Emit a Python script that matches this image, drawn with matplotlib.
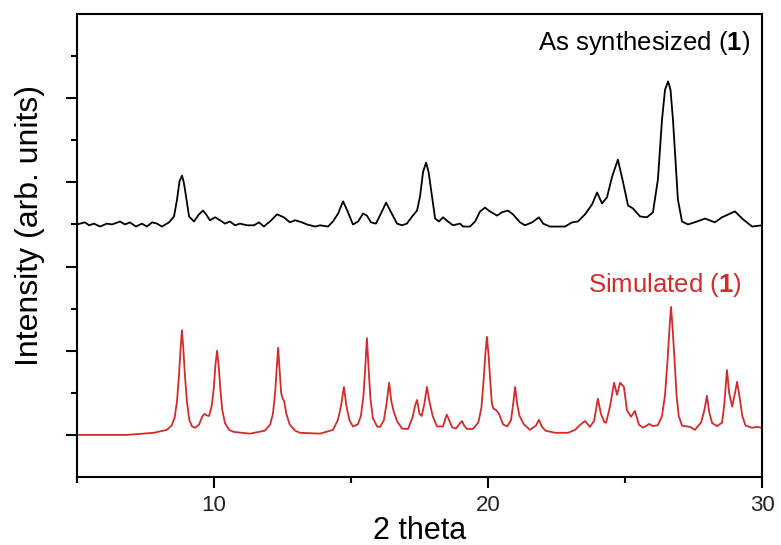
import matplotlib
matplotlib.use("Agg")
import matplotlib.pyplot as plt
from matplotlib.ticker import MultipleLocator, NullFormatter

plt.rcParams['font.family'] = ['Liberation Sans', 'DejaVu Sans']
plt.rcParams['mathtext.fontset'] = 'custom'
plt.rcParams['mathtext.rm'] = 'Liberation Sans'
plt.rcParams['mathtext.bf'] = 'Liberation Sans:bold'

# As-synthesized pattern (2theta, intensity above its baseline)
exp_2theta = [5.00, 5.29, 5.44, 5.62, 5.84, 6.09, 6.28, 6.57, 6.75, 6.93, 7.15, 7.37, 7.55,
              7.74, 7.92, 8.10, 8.36, 8.54, 8.65, 8.74, 8.83, 8.89, 8.94, 9.09, 9.27, 9.45,
              9.60, 9.71, 9.85, 10.04, 10.22, 10.40, 10.58, 10.77, 10.95, 11.20, 11.46,
              11.64, 11.82, 12.04, 12.30, 12.55, 12.77, 12.96, 13.21, 13.39, 13.69, 13.87,
              14.16, 14.34, 14.53, 14.71, 14.89, 15.07, 15.26, 15.44, 15.58, 15.73, 15.91,
              16.13, 16.28, 16.46, 16.68, 16.86, 17.04, 17.23, 17.41, 17.52, 17.63, 17.74,
              17.83, 17.92, 18.07, 18.21, 18.36, 18.54, 18.72, 18.98, 19.09, 19.34, 19.53,
              19.71, 19.89, 20.07, 20.33, 20.51, 20.73, 20.91, 21.17, 21.35, 21.61, 21.86,
              22.01, 22.26, 22.55, 22.81, 23.07, 23.28, 23.54, 23.80, 23.98, 24.16, 24.34,
              24.53, 24.74, 24.93, 25.11, 25.29, 25.55, 25.80, 26.02, 26.20, 26.35, 26.46,
              26.57, 26.66, 26.75, 26.93, 27.08, 27.30, 27.63, 27.92, 28.28, 28.54, 29.01,
              29.31, 29.64, 30.00]
exp_int = [0.00, 0.05, -0.02, 0.02, -0.05, 0.02, 0.00, 0.07, 0.00, 0.05, -0.05, 0.02, -0.05,
           0.05, 0.02, -0.05, 0.05, 0.19, 0.59, 1.02, 1.16, 1.02, 0.83, 0.19, 0.07, 0.24,
           0.33, 0.24, 0.10, 0.17, 0.10, 0.02, 0.07, -0.02, 0.02, -0.02, -0.02,
           0.05, -0.05, 0.07, 0.24, 0.17, 0.05, 0.10, 0.05, 0.00, -0.05, -0.02,
           -0.05, 0.07, 0.26, 0.55, 0.29, 0.00, 0.07, 0.26, 0.21, 0.05, 0.02,
           0.31, 0.52, 0.29, 0.02, -0.02, 0.02, 0.19, 0.33, 0.67, 1.25, 1.47,
           1.25, 0.83, 0.14, 0.07, 0.17, 0.07, -0.02, 0.02, -0.05, -0.05, 0.07,
           0.31, 0.40, 0.31, 0.21, 0.29, 0.33, 0.24, 0.05, -0.02, 0.05, 0.17,
           0.02, -0.05, -0.05, -0.05, 0.05, 0.07, 0.24, 0.48, 0.76, 0.50, 0.64,
           1.14, 1.54, 1.00, 0.45, 0.38, 0.19, 0.17, 0.29, 1.07, 2.49, 3.20,
           3.40, 3.20, 2.49, 0.59, 0.07, 0.00, 0.07, 0.14, 0.05, 0.17, 0.31,
           0.12, -0.05, -0.02]

# Simulated pattern
sim_2theta = [5.00, 6.82, 7.81, 8.28, 8.45, 8.56, 8.65, 8.72, 8.78, 8.83,
              8.88, 8.94, 9.01, 9.10, 9.20, 9.31, 9.45, 9.58, 9.66, 9.74,
              9.82, 9.92, 9.99, 10.05, 10.11, 10.17, 10.23, 10.30, 10.40, 10.55,
              10.73, 11.31, 11.86, 12.05, 12.15, 12.23, 12.29, 12.34, 12.39, 12.45,
              12.50, 12.56, 12.64, 12.76, 12.96, 13.14, 13.87, 14.34, 14.52, 14.64,
              14.74, 14.83, 14.94, 15.07, 15.25, 15.36, 15.45, 15.52, 15.58, 15.64,
              15.71, 15.80, 15.95, 16.06, 16.20, 16.31, 16.39, 16.47, 16.56, 16.68,
              16.86, 17.08, 17.24, 17.34, 17.41, 17.50, 17.58, 17.68, 17.77, 17.86,
              17.98, 18.14, 18.36, 18.45, 18.50, 18.58, 18.69, 18.83, 18.98, 19.05,
              19.13, 19.23, 19.45, 19.65, 19.76, 19.84, 19.90, 19.96, 20.02, 20.08,
              20.14, 20.20, 20.28, 20.40, 20.55, 20.70, 20.84, 20.92, 20.99, 21.06,
              21.15, 21.31, 21.53, 21.75, 21.86, 21.96, 22.10, 22.45, 22.92, 23.18,
              23.36, 23.54, 23.72, 23.87, 24.01, 24.12, 24.25, 24.31, 24.45, 24.60,
              24.71, 24.82, 24.96, 25.07, 25.22, 25.36, 25.51, 25.66, 25.88, 26.02,
              26.20, 26.35, 26.46, 26.55, 26.62, 26.68, 26.74, 26.81, 26.88, 26.96,
              27.08, 27.37, 27.55, 27.78, 27.90, 27.99, 28.07, 28.18, 28.36, 28.54,
              28.62, 28.72, 28.80, 28.91, 29.00, 29.09, 29.18, 29.28, 29.40, 29.64,
              29.82, 30.00]
sim_int = [0.00, 0.00, 0.05, 0.12, 0.22, 0.40, 0.80, 1.40, 2.05, 2.49,
           2.05, 1.40, 0.80, 0.35, 0.20, 0.17, 0.24, 0.45, 0.50, 0.46,
           0.45, 0.70, 1.10, 1.65, 2.00, 1.65, 1.10, 0.60, 0.28, 0.12,
           0.07, 0.03, 0.10, 0.25, 0.50, 1.00, 1.60, 2.07, 1.60, 1.00,
           0.87, 0.80, 0.50, 0.25, 0.10, 0.05, 0.03, 0.12, 0.35, 0.70,
           1.14, 0.70, 0.35, 0.20, 0.25, 0.45, 0.90, 1.60, 2.30, 1.60,
           0.85, 0.40, 0.20, 0.19, 0.35, 0.80, 1.24, 0.80, 0.55, 0.33,
           0.15, 0.14, 0.40, 0.70, 0.83, 0.50, 0.45, 0.75, 1.14, 0.80,
           0.45, 0.20, 0.20, 0.40, 0.48, 0.35, 0.18, 0.15, 0.28, 0.33,
           0.22, 0.14, 0.14, 0.30, 0.65, 1.30, 1.90, 2.33, 1.90, 1.30,
           0.75, 0.62, 0.60, 0.50, 0.25, 0.20, 0.35, 0.75, 1.14, 0.75,
           0.45, 0.25, 0.12, 0.22, 0.36, 0.20, 0.10, 0.05, 0.05, 0.12,
           0.24, 0.33, 0.19, 0.33, 0.86, 0.50, 0.30, 0.29, 0.67, 1.24,
           0.95, 1.24, 1.14, 0.59, 0.43, 0.57, 0.24, 0.17, 0.26, 0.21,
           0.23, 0.45, 0.95, 1.75, 2.50, 3.04, 2.50, 1.75, 0.95, 0.45,
           0.22, 0.19, 0.12, 0.30, 0.60, 0.93, 0.55, 0.28, 0.21, 0.29,
           0.70, 1.54, 1.00, 0.67, 0.95, 1.26, 0.90, 0.45, 0.22, 0.17,
           0.19, 0.17]

exp_offset = 6.0
sim_offset = 1.0

fig = plt.figure(figsize=(7.81, 5.45), dpi=100)
ax = fig.add_axes([0.0986, 0.1248, 0.8771, 0.8495])

ax.plot(exp_2theta, [v + exp_offset for v in exp_int], color='black', lw=1.3)
ax.plot(sim_2theta, [v + sim_offset for v in sim_int], color='#d42a2a', lw=1.3)

ax.set_xlim(5, 30)
ax.set_ylim(0, 11)

ax.xaxis.set_major_locator(MultipleLocator(10))
ax.xaxis.set_minor_locator(MultipleLocator(5))
ax.set_yticks([1, 3, 5, 7, 9])
ax.set_yticks([2, 4, 6, 8, 10], minor=True)
ax.yaxis.set_major_formatter(NullFormatter())

ax.tick_params(which='major', direction='out', length=8, width=1.5, labelsize=16, pad=5)
ax.tick_params(which='minor', direction='out', length=4, width=1.5)
ax.tick_params(axis='x', labelcolor='#222222')
for sp in ax.spines.values():
    sp.set_linewidth(1.5)

ax.set_xlabel('2 theta', fontsize=22, labelpad=0)
ax.set_ylabel('Intensity (arb. units)', fontsize=23)
ax.yaxis.set_label_coords(-0.047, 0.544)

ax.text(29.56, 10.14, r'As synthesized ($\mathbf{1}$)', ha='right', va='baseline',
        fontsize=18.5, color='black')
ax.text(29.27, 4.39, r'Simulated ($\mathbf{1}$)', ha='right', va='baseline',
        fontsize=18.5, color='#d42a2a')

fig.savefig('out.png', dpi=100)
